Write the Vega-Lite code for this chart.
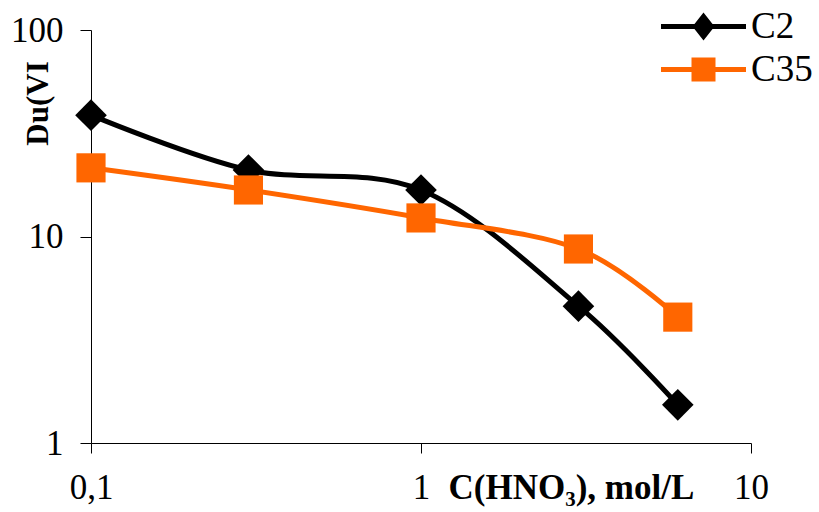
{
  "$schema": "https://vega.github.io/schema/vega-lite/v6.json",
  "width": 660,
  "height": 413,
  "autosize": "none",
  "padding": {"left": 91, "top": 30, "right": 68, "bottom": 69},
  "background": "white",
  "config": {
    "view": {"stroke": null},
    "font": "Liberation Serif",
    "axis": {
      "domainColor": "black",
      "tickColor": "black",
      "domainWidth": 1,
      "tickWidth": 1,
      "grid": false,
      "labelColor": "black",
      "labelFont": "Liberation Serif",
      "labelFontSize": 35,
      "titleColor": "black",
      "titleFont": "Liberation Serif",
      "titleFontWeight": "bold"
    }
  },
  "data": {
    "values": [
      {"series": "C2", "c": 0.1, "du": 38.7},
      {"series": "C2", "c": 0.3, "du": 21.0},
      {"series": "C2", "c": 1, "du": 16.8},
      {"series": "C2", "c": 3, "du": 4.6},
      {"series": "C2", "c": 6, "du": 1.53},
      {"series": "C35", "c": 0.1, "du": 21.5},
      {"series": "C35", "c": 0.3, "du": 16.8},
      {"series": "C35", "c": 1, "du": 12.3},
      {"series": "C35", "c": 3, "du": 8.7},
      {"series": "C35", "c": 6, "du": 4.07}
    ]
  },
  "encoding": {
    "x": {
      "field": "c",
      "type": "quantitative",
      "scale": {"type": "log", "domain": [0.1, 10], "nice": false},
      "axis": {
        "values": [0.1, 1, 10],
        "tickSize": 10,
        "labelPadding": 17,
        "labelBaseline": "top",
        "labelFlush": false,
        "labelExpr": "replace(format(datum.value, ''), '.', ',')",
        "title": "C(HNO₃), mol/L",
        "titleFontSize": 35,
        "titleAnchor": "start",
        "titleAlign": "left",
        "titleBaseline": "alphabetic",
        "titleX": 357,
        "titleY": 55
      }
    },
    "y": {
      "field": "du",
      "type": "quantitative",
      "scale": {"type": "log", "domain": [1, 100], "nice": false},
      "axis": {
        "values": [1, 10, 100],
        "tickSize": 11,
        "labelPadding": 17,
        "labelBaseline": "middle",
        "labelFlush": false,
        "title": "Du(VI",
        "titleFontSize": 31,
        "titleAngle": -90,
        "titleAlign": "center",
        "titleBaseline": "middle",
        "titleX": -53,
        "titleY": 73
      }
    },
    "color": {
      "field": "series",
      "type": "nominal",
      "scale": {"domain": ["C2", "C35"], "range": ["#000000", "#FF6600"]},
      "legend": {
        "title": null,
        "orient": "none",
        "legendX": 594,
        "legendY": -22,
        "padding": 0,
        "symbolOffset": 0,
        "symbolSize": 400,
        "symbolOpacity": 1,
        "symbolStrokeWidth": 0,
        "labelFont": "Liberation Serif",
        "labelFontSize": 37,
        "labelColor": "black",
        "labelOffset": 29,
        "rowPadding": 5
      }
    }
  },
  "layer": [
    {
      "mark": {"type": "line", "strokeWidth": 5, "interpolate": "cardinal"}
    },
    {
      "transform": [{"filter": "datum.series === 'C2'"}],
      "mark": {"type": "point", "shape": "diamond", "size": 1000, "filled": true, "opacity": 1, "strokeWidth": 0}
    },
    {
      "transform": [{"filter": "datum.series === 'C35'"}],
      "mark": {"type": "point", "shape": "square", "size": 850, "filled": true, "opacity": 1, "strokeWidth": 0}
    },
    {
      "description": "legend keys only: a stroke with the series marker on it; draws no rows",
      "transform": [{"filter": "false"}],
      "mark": {"type": "point", "filled": true, "opacity": 1, "size": 400, "strokeWidth": 0},
      "encoding": {
        "shape": {
          "field": "series",
          "type": "nominal",
          "scale": {
            "domain": ["C2", "C35"],
            "range": [
              "M-4.25,-0.25H4.25V0.25H-4.25Z M0,-1.4L1.1,0L0,1.4L-1.1,0Z",
              "M-4.25,-0.25H4.25V0.25H-4.25Z M-1.2,-1.2H1.2V1.2H-1.2Z"
            ]
          }
        }
      }
    }
  ]
}
